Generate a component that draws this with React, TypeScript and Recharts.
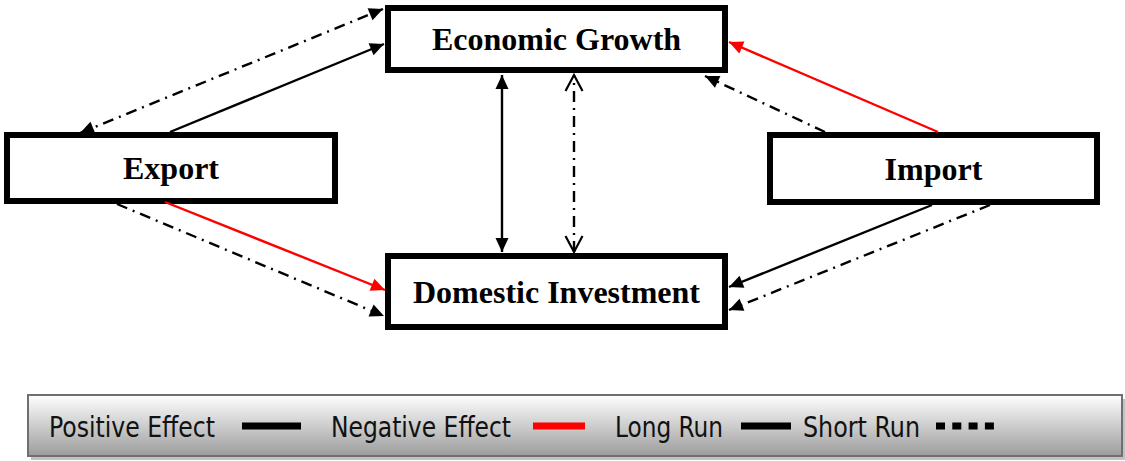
import React from 'react';
import { ScatterChart, Scatter, XAxis, YAxis, ReferenceArea, Legend } from 'recharts';

const W = 1125;
const H = 461;

// boxes (diagram units = page pixels)
const nodeNames = ['Economic Growth', 'Export', 'Import', 'Domestic Investment'];
const nodeX1 = [388, 7, 770, 388];
const nodeX2 = [725, 335, 1097, 725];
const nodeY1 = [8, 135, 135, 256];
const nodeY2 = [70, 201, 202, 327];

// arrows
const edgeFrom = [
  [170, 132], [80, 133], [502, 252], [574, 252], [938, 132],
  [825, 132], [932, 205], [990, 205], [165, 202], [117, 204],
];
const edgeTo = [
  [384, 44], [383, 9], [502, 75], [574, 75], [729, 42],
  [705, 76], [729, 287], [729, 310], [385, 290], [384, 316],
];
const edgeEffect = ['positive', 'positive', 'positive', 'positive', 'negative', 'positive', 'positive', 'positive', 'negative', 'positive'];
const edgeRun = ['long', 'short', 'long', 'short', 'long', 'short', 'long', 'short', 'long', 'short'];
const edgeHeads = ['end', 'both', 'both', 'both', 'end', 'end', 'end', 'end', 'end', 'end'];
const edgeOpenHead = [false, false, false, true, false, false, false, false, false, false];

// legend
const legendLabels = ['Positive Effect', 'Negative Effect', 'Long Run', 'Short Run'];
const legendSwatch = ['positive', 'negative', 'long', 'short'];

const effectColor: Record<string, string> = { positive: '#000000', negative: '#ff0000' };
const runDash: Record<string, string | undefined> = { long: undefined, short: '11 6 2 6' };

const edges = edgeFrom.map((f, i) => {
  const t = edgeTo[i];
  const dx = t[0] - f[0];
  const dy = t[1] - f[1];
  const color = effectColor[edgeEffect[i]];
  const open = edgeOpenHead[i];
  return {
    color,
    dash: runDash[edgeRun[i]],
    data: [
      { x: f[0], y: f[1], head: edgeHeads[i] === 'both', dx: -dx, dy: -dy, color, open },
      { x: t[0], y: t[1], head: true, dx, dy, color, open },
    ],
  };
});

const ArrowHead = (props: any) => {
  const { cx, cy, payload } = props;
  if (!payload || !payload.head) return <g />;
  const len = Math.hypot(payload.dx, payload.dy) || 1;
  const ux = payload.dx / len;
  const uy = payload.dy / len;
  const L = payload.open ? 16 : 14;
  const hw = payload.open ? 8.5 : 6.5;
  const bx = cx - ux * L;
  const by = cy - uy * L;
  const p1 = `${bx - uy * hw},${by + ux * hw}`;
  const p2 = `${bx + uy * hw},${by - ux * hw}`;
  if (payload.open) {
    return <polyline points={`${p1} ${cx},${cy} ${p2}`} fill="none" stroke={payload.color} strokeWidth={2.2} />;
  }
  return <polygon points={`${p1} ${cx},${cy} ${p2}`} fill={payload.color} />;
};

const legendTextX = [49, 331, 615, 803];
const legendTextW = [166, 180, 108, 117];
const legendSwX = [242, 533, 741, 936];
const legendSwW = [59, 52, 50, 58];

const LegendBox = () => (
  <svg width={W} height={81} style={{ display: 'block' }}>
    <defs>
      <linearGradient id="legendGrad" x1="0" y1="0" x2="0" y2="1">
        <stop offset="0" stopColor="#ffffff" />
        <stop offset="1" stopColor="#9c9c9c" />
      </linearGradient>
    </defs>
    <rect x={31} y={19} width={1094} height={61} fill="#c2c2c2" />
    <rect x={28} y={15} width={1094} height={61} fill="url(#legendGrad)" stroke="#6f6f6f" strokeWidth={2} />
    {legendLabels.map((lab, i) => {
      const kind = legendSwatch[i];
      const color = kind === 'negative' ? '#ff0000' : '#000000';
      return (
        <g key={lab}>
          <text
            x={legendTextX[i]}
            y={57}
            fontSize={28}
            fontFamily="'DejaVu Sans Condensed', 'Liberation Sans', sans-serif"
            fill="#111"
            textLength={legendTextW[i]}
            lengthAdjust="spacingAndGlyphs"
          >
            {lab}
          </text>
          <line
            x1={legendSwX[i]}
            x2={legendSwX[i] + legendSwW[i]}
            y1={46}
            y2={46}
            stroke={color}
            strokeWidth={7}
            strokeDasharray={kind === 'short' ? '9 7.3' : undefined}
          />
        </g>
      );
    })}
  </svg>
);

export default function App() {
  return (
    <div style={{ width: W, height: H, background: '#fff' }}>
      <style>{'body{margin:0}'}</style>
      <ScatterChart width={W} height={H} margin={{ top: 0, right: 0, bottom: 0, left: 0 }}>
        <XAxis type="number" dataKey="x" domain={[0, W]} allowDataOverflow hide />
        <YAxis type="number" dataKey="y" domain={[0, H]} allowDataOverflow reversed hide />
        {nodeNames.map((name, i) => (
          <ReferenceArea
            key={name}
            x1={nodeX1[i]}
            x2={nodeX2[i]}
            y1={nodeY1[i]}
            y2={nodeY2[i]}
            fill="#ffffff"
            fillOpacity={1}
            stroke="#000000"
            strokeWidth={6}
            ifOverflow="visible"
            label={{
              position: 'center',
              content: (p: any) => {
                const vb = p.viewBox || {};
                return (
                  <text
                    x={vb.x + vb.width / 2}
                    y={vb.y + vb.height / 2 + 11}
                    textAnchor="middle"
                    fontSize={32}
                    fontWeight="bold"
                    fontFamily="'Liberation Serif', 'Times New Roman', serif"
                    fill="#000"
                  >
                    {name}
                  </text>
                );
              },
            }}
          />
        ))}
        {edges.map((e, i) => (
          <Scatter
            key={i}
            data={e.data}
            fill={e.color}
            line={{ stroke: e.color, strokeWidth: 2.4, strokeDasharray: e.dash }}
            lineType="joint"
            shape={ArrowHead}
            legendType="none"
            isAnimationActive={false}
          />
        ))}
        <Legend
          layout="vertical"
          align="center"
          verticalAlign="middle"
          wrapperStyle={{ position: 'absolute', left: 0, top: 380, width: W, height: 81 }}
          content={() => <LegendBox />}
        />
      </ScatterChart>
    </div>
  );
}
